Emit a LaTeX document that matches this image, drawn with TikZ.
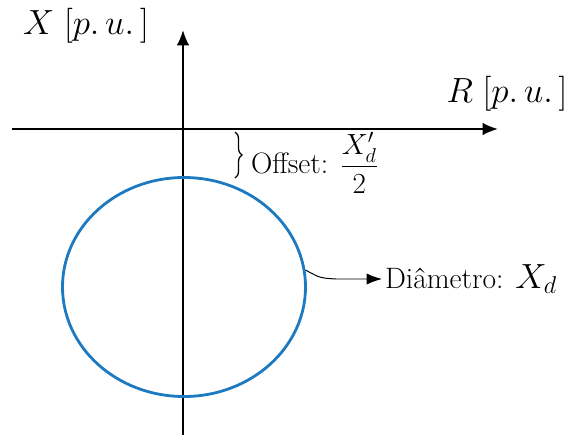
\documentclass[tikz,border=0pt]{standalone}
\usepackage{amsmath}
\usetikzlibrary{arrows.meta,decorations.pathreplacing}
\definecolor{circblue}{RGB}{30,122,192}
\begin{document}
\begin{tikzpicture}[x=0.025cm,y=-0.025cm]
\useasboundingbox (0,0) rectangle (580,443);
% axes
\coordinate (xl) at (12,129);
\coordinate (xr) at (498,129);
\coordinate (yb) at (183,435);
\coordinate (yt) at (183,30);
\draw[line width=1.4pt,-{Latex[length=11pt,width=9pt]}] (xl) -- (xr);
\draw[line width=1.4pt,-{Latex[length=11pt,width=9pt]}] (yb) -- (yt);
\node[font=\fontsize{31}{34}\selectfont] (xlab) at (86,26) {$X\;[p.\,u.\,]$};
\node[font=\fontsize{31}{34}\selectfont] (rlab) at (507,94) {$R\;[p.\,u.\,]$};
% circle
\draw[circblue,line width=2pt] (184,287) ellipse [x radius=121.5,y radius=109.5];
% offset
\coordinate (bt) at (235,132);
\coordinate (bb) at (235,178);
\draw[line width=0.9pt,decorate,decoration={brace,amplitude=5pt}] (bt) -- (bb);
\node[anchor=west,font=\fontsize{21}{24}\selectfont,inner sep=2pt] (off) at (248,163) {Offset: $\dfrac{X'_d}{2}$};
% diameter
\coordinate (dc) at (305.5,270);
\node[anchor=west,font=\fontsize{21}{24}\selectfont,inner sep=2pt] (dia) at (382,279) {Diâmetro: \fontsize{27}{30}\selectfont$X_d$};
\draw[line width=0.7pt,-{Latex[length=11pt,width=8pt]}] (dc) .. controls (320,278) .. (336,279) -- (dia.west);
\end{tikzpicture}
\end{document}
